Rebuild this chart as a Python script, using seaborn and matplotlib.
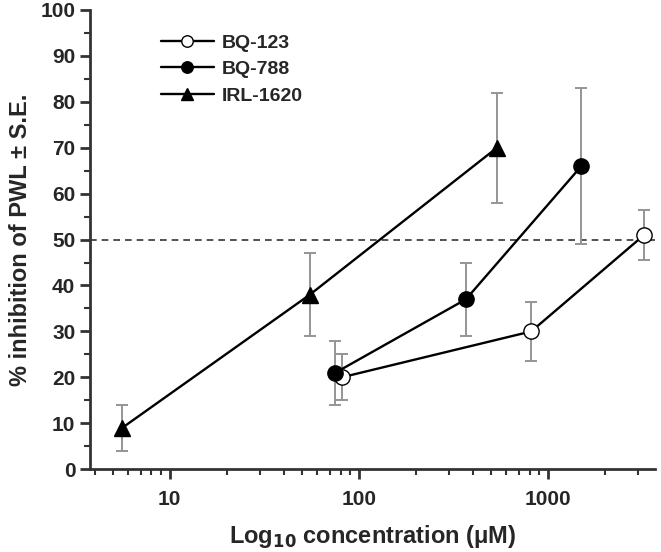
import numpy as np
import pandas as pd
import seaborn as sns
import matplotlib.pyplot as plt
from matplotlib.ticker import MultipleLocator, LogLocator, NullFormatter, FixedLocator, FixedFormatter

compounds = ['BQ-123', 'BQ-788', 'IRL-1620']
conc_bq123 = [81, 815, 3220]
mean_bq123 = [20, 30, 51]
lo_bq123 = [15, 23.5, 45.5]
hi_bq123 = [25, 36.5, 56.5]

conc_bq788 = [75, 368, 1500]
mean_bq788 = [21, 37, 66]
lo_bq788 = [14, 29, 49]
hi_bq788 = [28, 45, 83]

conc_irl = [5.6, 55, 537]
mean_irl = [9, 38, 70]
lo_irl = [4, 29, 58]
hi_irl = [14, 47, 82]

df = pd.DataFrame({
    'compound': ['BQ-123'] * 3 + ['BQ-788'] * 3 + ['IRL-1620'] * 3,
    'conc': conc_bq123 + conc_bq788 + conc_irl,
    'mean': mean_bq123 + mean_bq788 + mean_irl,
    'lo': lo_bq123 + lo_bq788 + lo_irl,
    'hi': hi_bq123 + hi_bq788 + hi_irl,
})

sns.set_style('ticks')
plt.rcParams['font.family'] = ['Liberation Sans', 'DejaVu Sans']
plt.rcParams['font.weight'] = 'bold'

fig = plt.figure(figsize=(6.61, 5.52), dpi=100)
ax = fig.add_axes([0.136, 0.150, 0.855, 0.832])

ax.axhline(50, color='#333333', ls=(0, (4, 3)), lw=1.2, zorder=1)

styles = {
    'BQ-123': dict(marker='o', markerfacecolor='white', markersize=11),
    'BQ-788': dict(marker='o', markerfacecolor='black', markersize=11),
    'IRL-1620': dict(marker='^', markerfacecolor='black', markersize=12),
}

for name in compounds:
    d = df[df['compound'] == name]
    ax.errorbar(d['conc'], d['mean'], yerr=[d['mean'] - d['lo'], d['hi'] - d['mean']],
                fmt='none', ecolor='#959595', elinewidth=1.4, capsize=4, capthick=1.4, zorder=2)
    sns.lineplot(data=d, x='conc', y='mean', ax=ax, color='black', lw=1.7,
                 markeredgecolor='black', markeredgewidth=1.0, label=name, zorder=3,
                 **styles[name])

ax.set_xscale('log')
ax.set_xlim(3.78, 3680)
ax.set_ylim(0, 100)
ax.yaxis.set_major_locator(MultipleLocator(10))
ax.yaxis.set_minor_locator(MultipleLocator(5))
ax.xaxis.set_major_locator(FixedLocator([10, 100, 1000]))
ax.xaxis.set_major_formatter(FixedFormatter(['10', '100', '1000']))
ax.xaxis.set_minor_locator(LogLocator(base=10, subs=np.arange(2, 10)))
ax.xaxis.set_minor_formatter(NullFormatter())

for s in ['top', 'right']:
    ax.spines[s].set_visible(False)
for s in ['left', 'bottom']:
    ax.spines[s].set_linewidth(2)
    ax.spines[s].set_color('#333333')

ax.tick_params(axis='both', which='major', direction='out', length=7, width=2,
               labelsize=15, color='#333333')
ax.tick_params(axis='x', which='major', pad=8)
ax.tick_params(axis='both', which='minor', direction='out', length=4, width=1.5,
               color='#333333')
for lab in ax.get_xticklabels() + ax.get_yticklabels():
    lab.set_fontweight('bold')

ax.set_xlabel('Log$_{\\mathbf{10}}$ concentration (\u03bcM)', fontsize=17, fontweight='bold', labelpad=10)
ax.set_ylabel('% inhibition of PWL \u00b1 S.E.', fontsize=17, fontweight='bold', labelpad=6)

leg = ax.legend(loc='upper left', bbox_to_anchor=(0.095, 0.985), frameon=False,
                handlelength=2.7, fontsize=14, labelspacing=0.45, handletextpad=0.4,
                markerscale=0.75)
for t in leg.get_texts():
    t.set_fontweight('bold')

fig.savefig('out.png', dpi=100)
